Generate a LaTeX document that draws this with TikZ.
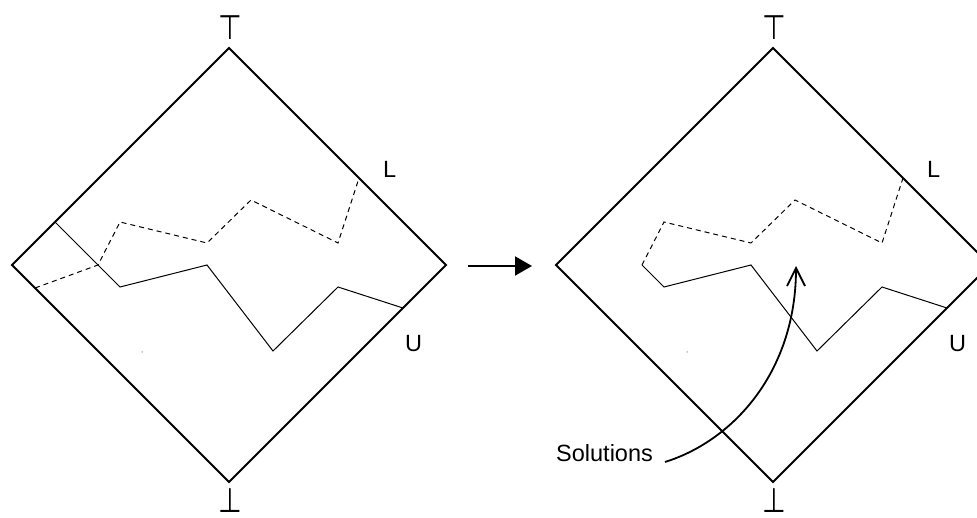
\documentclass[tikz,border=0pt]{standalone}
\usepackage{fontspec}
\setmainfont{Liberation Sans}
\newfontfamily\symfont{DejaVu Sans}
\usetikzlibrary{arrows.meta}

\begin{document}
\begin{tikzpicture}[x=1pt, y=-1pt,
    lattice/.style={line width=2pt, line join=miter},
    chain/.style={line width=1pt, line join=miter},
    dashchain/.style={chain, dash pattern=on 5pt off 4pt},
    tag/.style={font=\fontsize{23.5}{23.5}\selectfont, inner sep=0pt},
    extreme/.style={font=\symfont\fontsize{34}{34}\selectfont, inner sep=0pt}]
    \useasboundingbox (0,0) rectangle (977,518);

    % Left lattice, before
    \coordinate (ltop) at (229,48);
    \coordinate (lright) at (446,265);
    \coordinate (lbot) at (229,482);
    \coordinate (lleft) at (12,265);
    \draw[lattice] (ltop) -- (lright) -- (lbot) -- (lleft) -- cycle;
    \node[extreme] (ltopl) at (230,28) {\scalebox{0.8}[1]{⊤}};
    \node[extreme] (lbotl) at (230,501) {\scalebox{0.8}[1]{⊥}};
    \node[tag, anchor=base west] (lL) at (383,178) {L};
    \node[tag, anchor=base west] (lU) at (405,352) {U};
    % Upper bound (solid) and lower bound (dashed)
    \coordinate (lu0) at (55,222);
    \coordinate (lx) at (98,265);
    \coordinate (ll0) at (35,288);
    \draw[chain] (lu0) -- (lx) -- (120,287) -- (207,265) -- (273,351) -- (338,287) -- (403,308);
    \draw[dashchain] (ll0) -- (lx) -- (120,222) -- (207,243) -- (251,200) -- (338,243) -- (359,178);
    \fill (142,352) circle (0.5);

    % Arrow between the two
    \coordinate (arrA) at (468,266);
    \coordinate (arrB) at (532,266);
    \draw[line width=2pt, -{Triangle[length=17pt, width=19pt]}] (arrA) -- (arrB);

    % Right lattice, after
    \begin{scope}[xshift=544pt]
        \coordinate (rtop) at (229,48);
        \coordinate (rright) at (446,265);
        \coordinate (rbot) at (229,482);
        \coordinate (rleft) at (12,265);
        \draw[lattice] (rtop) -- (rright) -- (rbot) -- (rleft) -- cycle;
        \node[extreme] (rtopl) at (230,28) {\scalebox{0.8}[1]{⊤}};
        \node[extreme] (rbotl) at (230,501) {\scalebox{0.8}[1]{⊥}};
        \node[tag, anchor=base west] (rL) at (383,178) {L};
        \node[tag, anchor=base west] (rU) at (405,352) {U};
        \coordinate (rx) at (98,265);
        \draw[chain] (rx) -- (120,287) -- (207,265) -- (273,351) -- (338,287) -- (403,308);
        \draw[dashchain] (rx) -- (120,222) -- (207,243) -- (251,200) -- (338,243) -- (359,178);
        \fill (143,352) circle (0.5);
    \end{scope}

    % Solutions pointer
    \node[tag, anchor=base west] (sol) at (556,461) {Solutions};
    \coordinate (solA) at (665,462);
    \coordinate (solB) at (796,266);
    \draw[line width=1.8pt, -{Straight Barb[length=18pt, width=18pt]}]
        (solA) .. controls (735,440) and (796,370) .. (solB);
\end{tikzpicture}
\end{document}
